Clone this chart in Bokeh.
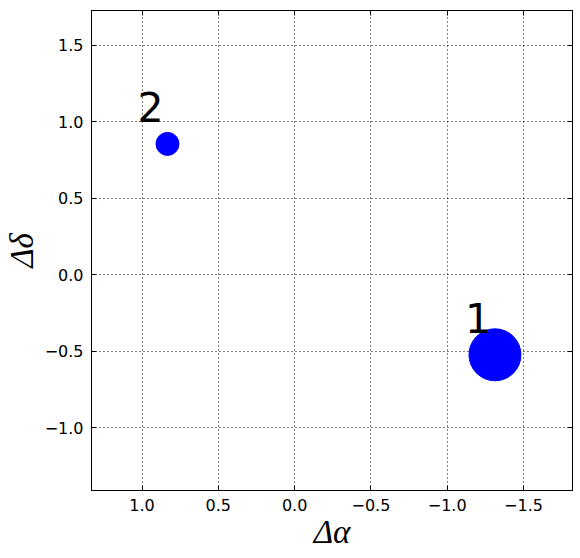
from bokeh.plotting import figure
from bokeh.models import (ColumnDataSource, Range1d, LinearAxis, FixedTicker,
                          CustomJSTickFormatter)
from bokeh.core.properties import value
from bokeh.embed import file_html
from bokeh.resources import INLINE

# data
d_alpha = [-1.313, 0.833]
d_delta = [-0.524, 0.856]
labels = ["1", "2"]
sizes_px = [52, 23]
tick_values = [-1.5, -1.0, -0.5, 0.0, 0.5, 1.0, 1.5]

src = ColumnDataSource(dict(x=d_alpha, y=d_delta, label=labels, size=sizes_px))

p = figure(width=566, height=545, output_backend="svg", toolbar_location=None,
           x_range=Range1d(1.331, -1.821), y_range=Range1d(-1.412, 1.729),
           min_border_left=79, min_border_right=2, min_border_top=10,
           min_border_bottom=55, x_axis_location="below", y_axis_location="left")
p.frame_width = 481
p.frame_height = 480

fmt = CustomJSTickFormatter(code="return tick.toFixed(1).replace('-', '\u2212');")
blank = CustomJSTickFormatter(code="return '';")

for ax in p.xaxis + p.yaxis:
    ax.ticker = FixedTicker(ticks=tick_values)
    ax.formatter = fmt
    ax.major_tick_in = 5
    ax.major_tick_out = 0
    ax.minor_tick_line_color = None
    ax.axis_line_color = "black"
    ax.axis_line_width = 1
    ax.major_label_text_font = "DejaVu Sans"
    ax.major_label_text_font_size = "16px"
    ax.major_label_text_color = "black"
    ax.major_label_standoff = 8
    ax.axis_label_text_font = "Liberation Serif"
    ax.axis_label_text_font_style = "italic"
    ax.axis_label_text_font_size = "33px"
    ax.axis_label_text_color = "black"

p.xaxis.axis_label = "Δα"
p.yaxis.axis_label = "Δδ"
p.xaxis.axis_label_standoff = 0
p.yaxis.axis_label_standoff = 2

for loc in ("right", "above"):
    ax = LinearAxis(ticker=FixedTicker(ticks=tick_values), formatter=blank,
                    major_tick_in=5, major_tick_out=0,
                    minor_tick_line_color=None, major_label_standoff=0,
                    major_label_text_font_size="1px",
                    axis_line_color="black")
    p.add_layout(ax, loc)

p.outline_line_color = "black"
p.outline_line_width = 1

p.xgrid.ticker = FixedTicker(ticks=tick_values)
p.ygrid.ticker = FixedTicker(ticks=tick_values)
for g in (p.xgrid, p.ygrid):
    g.grid_line_color = "black"
    g.grid_line_dash = "1 3"
    g.grid_line_width = 1
    g.grid_line_alpha = 1.0

p.scatter("x", "y", size="size", source=src, fill_color="#0000ff",
          line_color="#0000ff")
p.text("x", "y", text="label", source=src, x_offset=-30, y_offset=-37,
       text_font=value("DejaVu Sans"), text_font_size="41px",
       text_baseline="alphabetic", text_align="left", text_color="black")

open("out.html", "w").write(file_html(p, INLINE))
